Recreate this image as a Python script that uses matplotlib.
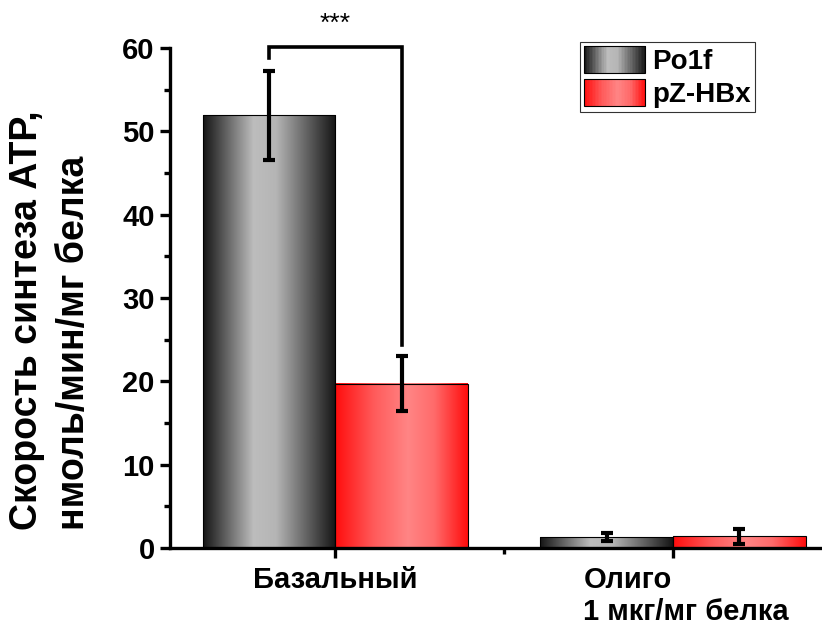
import numpy as np
import matplotlib.pyplot as plt
import matplotlib.transforms as mtransforms
from matplotlib.colors import LinearSegmentedColormap
from matplotlib.legend_handler import HandlerBase
from matplotlib.patches import Rectangle

plt.rcParams['font.family'] = ['Liberation Sans', 'DejaVu Sans']
plt.rcParams['font.weight'] = 'bold'

# data
categories = ['Базальный', 'Олиго\n1 мкг/мг белка']
groups = ['Po1f', 'pZ-HBx']
po1f_mean = [51.9, 1.3]
po1f_err = [5.3, 0.5]
hbx_mean = [19.7, 1.4]
hbx_err = [3.3, 0.9]
sig_text = '***'
sig_top = 60.1           # bracket height
sig_legs = [58.8, 24.4]  # where left / right legs end

ylabel = 'Скорость синтеза АТР,\nнмоль/мин/мг белка'

# gradients (dark edge -> light middle -> dark edge)
gray_cmap = LinearSegmentedColormap.from_list(
    'g', [(0, '#151515'), (0.38, '#bdbdbd'), (0.55, '#b5b5b5'), (1, '#151515')])
red_cmap = LinearSegmentedColormap.from_list(
    'r', [(0, '#ff0d0d'), (0.3, '#ff5c5c'), (0.55, '#ff8585'), (0.75, '#ff6a6a'), (1, '#ff0d0d')])
cmaps = [gray_cmap, red_cmap]


class GradientHandler(HandlerBase):
    def __init__(self, cmap):
        super().__init__()
        self.cmap = cmap

    def create_artists(self, legend, orig_handle, xdescent, ydescent,
                       width, height, fontsize, trans):
        n = 40
        arts = []
        for i in range(n):
            r = Rectangle((-xdescent + width * i / n, -ydescent), width / n + 0.3, height,
                          facecolor=self.cmap((i + 0.5) / n), edgecolor='none',
                          transform=trans)
            arts.append(r)
        arts.append(Rectangle((-xdescent, -ydescent), width, height, facecolor='none',
                              edgecolor='black', lw=0.8, transform=trans))
        return arts


fig = plt.figure(figsize=(8.22, 6.28), dpi=100)
ax = fig.add_axes([0.2068, 0.1274, 0.8175, 0.7962])

x = np.arange(len(categories))
w = 0.393
grad = np.linspace(0, 1, 256).reshape(1, -1)

handles = []
for k, (means, errs) in enumerate([(po1f_mean, po1f_err), (hbx_mean, hbx_err)]):
    pos = x + (k - 0.5) * w
    bars = ax.bar(pos, means, w, facecolor='none', edgecolor='black', lw=0.8,
                  zorder=3, label=groups[k])
    for b in bars:
        ax.imshow(grad, cmap=cmaps[k], extent=[b.get_x(), b.get_x() + b.get_width(),
                                               0, b.get_height()],
                  aspect='auto', zorder=2, interpolation='bicubic')
    ax.errorbar(pos, means, yerr=errs, fmt='none', ecolor='black', elinewidth=3,
                capsize=4, capthick=3, zorder=4)
    handles.append(bars)

# significance bracket
xl = x[0] - 0.5 * w
xr = x[0] + 0.5 * w
ax.plot([xl, xl, xr, xr], [sig_legs[0], sig_top, sig_top, sig_legs[1]],
        color='black', lw=2.6, zorder=5, clip_on=False, solid_joinstyle='miter')
ax.text(x[0], sig_top + 1.3, sig_text, ha='center', va='bottom', fontsize=19,
        fontweight='normal', clip_on=False)

ax.set_xlim(-0.49, 1.5)
ax.set_ylim(0, 60)
ax.set_yticks(np.arange(0, 61, 10))
ax.set_yticks(np.arange(5, 60, 10), minor=True)
ax.set_xticks(x)
ax.set_xticklabels(categories, fontsize=21, fontweight='bold', multialignment='left',
                   linespacing=1.2)
ax.set_xticks([0.5], minor=True)
ax.tick_params(axis='y', labelsize=21)
for lbl in ax.get_yticklabels():
    lbl.set_fontweight('bold')

for s in ['top', 'right']:
    ax.spines[s].set_visible(False)
for s in ['left', 'bottom']:
    ax.spines[s].set_linewidth(2.4)
ax.tick_params(which='major', direction='out', length=7, width=2.4, pad=4)
ax.tick_params(which='minor', direction='out', length=4, width=2.4)
ax.tick_params(axis='x', which='major', pad=6)

# the two-line label sits a bit right of its tick in the reference
lab = ax.get_xticklabels()[1]
lab.set_transform(lab.get_transform() +
                  mtransforms.ScaledTranslation(13 / 100, 0, fig.dpi_scale_trans))

fig.text(0.061, 0.49, ylabel, rotation=90, ha='center', va='center', fontsize=27,
         fontweight='bold', multialignment='left', linespacing=1.4)

leg = ax.legend(handles, groups, loc='upper right', bbox_to_anchor=(0.9185, 0.933),
                bbox_transform=fig.transFigure, fontsize=20, frameon=True, fancybox=False,
                edgecolor='black', handlelength=2.2, handleheight=1.1, borderpad=0.15,
                labelspacing=0.15, handletextpad=0.25, borderaxespad=0,
                handler_map={handles[0]: GradientHandler(gray_cmap),
                             handles[1]: GradientHandler(red_cmap)})
leg.get_frame().set_linewidth(0.8)
for t in leg.get_texts():
    t.set_fontweight('bold')

fig.savefig('out.png', dpi=100)
